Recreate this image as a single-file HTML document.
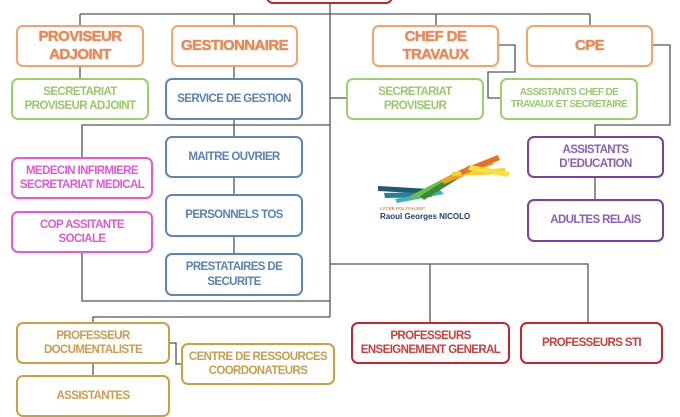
<!DOCTYPE html>
<html><head><meta charset="utf-8"><style>
body{margin:0;width:680px;height:410px;overflow:hidden;background:#fff;position:relative;font-family:"Liberation Sans",sans-serif}
.b{position:absolute;box-sizing:border-box;border:2px solid;border-radius:7px;background:#fff;display:flex;align-items:center;justify-content:center;text-align:center;font-weight:bold;line-height:1.25;letter-spacing:-0.6px;font-size:11.5px}
.o{border-color:#f4a46a;color:#e98a55;font-size:15px;line-height:1.2;text-shadow:0 0 1px #b86030}
.g{border-color:#9ccf6c;color:#98c86a}
.bl{border-color:#5d86b8;color:#5b82b4}
.p{border-color:#e45ad6;color:#dd5ad2}
.pu{border-color:#7b3fa6;color:#8a5fb8}
.y{border-color:#c9a044;color:#c79e50}
.r{border-color:#c0282e;color:#c7403f}
svg{position:absolute;left:0;top:0}
</style></head><body>
<svg width="680" height="410"><g stroke="#555" stroke-width="1.3" fill="none">
<path d="M330 3V317"/>
<path d="M80 14H590M80 14V25M234 14V25M436 14V25M590 14V25"/>
<path d="M80 67V78M234 67V78"/>
<path d="M82 157V125H330M234 120V136M234 178V194M234 237V253"/>
<path d="M82 253V301H330"/>
<path d="M330 98H346"/>
<path d="M499 45H515V72H488V98H500"/>
<path d="M653 45H670V125H595V136M595 178V199"/>
<path d="M330 317H93V322"/>
<path d="M330 264H588V322M430 264V322"/>
<path d="M170 343H176V364H181"/>
<path d="M93 364V375"/>
</g>
<g>
<polygon points="378,186 430,189 430,194 378,191" fill="#1f5a70"/>
<polygon points="384,193 432,192 432,197 385,198" fill="#2a7f94"/>
<polygon points="395,199 440,190 444,194 397,203" fill="#3fb0c0"/>
<polygon points="410,196 460,170 463,174 412,200" fill="#6cc04a"/>
<polygon points="420,196 470,165 474,169 424,200" fill="#3d8a30"/>
<polygon points="440,180 490,160 494,164 444,184" fill="#f2a020"/>
<polygon points="452,172 505,168 505,174 452,176" fill="#f5d030"/>
<polygon points="460,170 498,155 500,160 462,175" fill="#e87020"/>
<polygon points="470,165 510,172 508,177 468,170" fill="#f8e040"/>
</g>
<text x="380" y="210" font-size="4.5" fill="#e88a30" font-family="Liberation Sans" font-weight="bold">LYCÉE POLYVALENT</text>
<text x="380" y="219" font-size="8" fill="#1f3f70" font-family="Liberation Sans" font-weight="bold">Raoul Georges NICOLO</text>
</svg>
<div class="b r" style="left:266px;top:-20px;width:127px;height:24px"></div>
<div class="b o" style="left:16px;top:25px;width:128px;height:42px">PROVISEUR<br>ADJOINT</div>
<div class="b o" style="left:171px;top:25px;width:127px;height:42px">GESTIONNAIRE</div>
<div class="b o" style="left:372px;top:25px;width:127px;height:42px">CHEF DE<br>TRAVAUX</div>
<div class="b o" style="left:526px;top:25px;width:127px;height:42px">CPE</div>
<div class="b g" style="left:11px;top:78px;width:138px;height:42px">SECRETARIAT<br>PROVISEUR ADJOINT</div>
<div class="b bl" style="left:165px;top:78px;width:138px;height:42px">SERVICE DE GESTION</div>
<div class="b g" style="left:346px;top:78px;width:138px;height:42px">SECRETARIAT<br>PROVISEUR</div>
<div class="b g" style="left:500px;top:78px;width:138px;height:42px;font-size:10px">ASSISTANTS CHEF DE<br>TRAVAUX ET SECRETAIRE</div>
<div class="b bl" style="left:165px;top:136px;width:138px;height:42px">MAITRE OUVRIER</div>
<div class="b p" style="left:11px;top:157px;width:142px;height:42px">MEDECIN INFIRMIERE<br>SECRETARIAT MEDICAL</div>
<div class="b pu" style="left:527px;top:136px;width:137px;height:42px">ASSISTANTS<br>D’EDUCATION</div>
<div class="b bl" style="left:165px;top:194px;width:138px;height:43px">PERSONNELS TOS</div>
<div class="b pu" style="left:527px;top:199px;width:137px;height:43px">ADULTES RELAIS</div>
<div class="b p" style="left:11px;top:211px;width:142px;height:42px">COP ASSITANTE<br>SOCIALE</div>
<div class="b bl" style="left:165px;top:253px;width:138px;height:43px">PRESTATAIRES DE<br>SECURITE</div>
<div class="b y" style="left:16px;top:322px;width:154px;height:42px">PROFESSEUR<br>DOCUMENTALISTE</div>
<div class="b y" style="left:181px;top:343px;width:154px;height:42px">CENTRE DE RESSOURCES<br>COORDONATEURS</div>
<div class="b y" style="left:16px;top:375px;width:154px;height:42px;align-items:flex-start;padding-top:12px">ASSISTANTES</div>
<div class="b r" style="left:351px;top:322px;width:159px;height:42px">PROFESSEURS<br>ENSEIGNEMENT GENERAL</div>
<div class="b r" style="left:520px;top:322px;width:143px;height:42px">PROFESSEURS STI</div>
</body></html>
